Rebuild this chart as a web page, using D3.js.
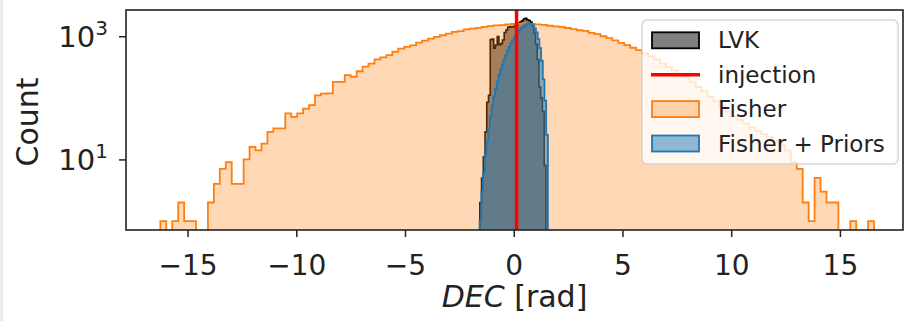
<!DOCTYPE html>
<html><head><meta charset="utf-8">
<script src="https://cdn.jsdelivr.net/npm/d3@7"></script>
<style>body{margin:0;background:#fff}</style>
</head><body><svg id="c" width="906" height="321"></svg>
<script>
// ---- data ----
const xTicks = [-15, -10, -5, 0, 5, 10, 15];
const yTickExps = [1, 3];
const fisherRange = [-16.25, 16.57];
const fisherCounts = [
  1,0,1,2,1,1,0,0,2,4,
  7,9,4,4,10,16,14,18,28,32,
  32,56,49,56,67,76,110,117,118,181,
  181,233,220,270,320,360,420,455,492,560,
  630,670,710,790,850,917,975,1038,1100,1175,
  1210,1290,1333,1370,1420,1460,1500,1520,1550,1580,
  1600,1610,1590,1560,1530,1480,1450,1415,1360,1300,
  1250,1220,1130,1080,1000,930,860,780,715,650,
  593,525,470,420,360,318,280,245,219,180,
  150,128,105,88,75,60,50,44,38,33,
  29,26,23,20,17,14,9,7,2,1,
  5,3,2,2,0,0,1,0,0,1
];
const lvkRange = [-1.56, 1.48];
const lvkCounts = [
  2,5,11,28,85,110,880,900,640,720,
  990,730,760,870,1150,1260,1400,1420,1410,1430,
  1500,1560,1640,1700,1780,1900,1950,1850,1800,1700,
  1500,1150,750,420,150,100,60,8
];
const priorsRange = [-1.5708, 1.5708];
const priorsCounts = [
  1,3,6,12,20,32,50,75,105,140,
  185,235,290,350,420,500,590,680,770,860,
  960,1060,1160,1260,1350,1430,1500,1560,1600,1610,
  1570,1480,1340,1150,900,640,400,200,90,25
];
const injection = 0.13;
const legendLabels = ["LVK", "injection", "Fisher", "Fisher + Priors"];
const xLabel = ["DEC", " [rad]"];
const yLabel = "Count";

// ---- layout ----
const L = 126, R = 903, T = 10, B = 230;
const svg = d3.select("#c");
const FONT = "DejaVu Sans";
svg.append("rect").attr("x",0).attr("y",0).attr("width",3).attr("height",321).attr("fill","#ececec");

const x = d3.scaleLinear().domain([-17.83, 17.9]).range([L, R]);
const y = d3.scaleLog().domain([0.715, 2667]).range([B, T]);

svg.append("defs").append("clipPath").attr("id","clip")
  .append("rect").attr("x",L).attr("y",T).attr("width",R-L).attr("height",B-T);

function stepPath(range, counts) {
  const n = counts.length, w = (range[1]-range[0])/n;
  const below = B + 20;
  let d = `M${x(range[0])},${below}`;
  counts.forEach((c, i) => {
    const yy = c > 0 ? y(c) : below;
    d += `L${x(range[0]+i*w)},${yy}L${x(range[0]+(i+1)*w)},${yy}`;
  });
  d += `L${x(range[1])},${below}Z`;
  return d;
}

const g = svg.append("g").attr("clip-path","url(#clip)");
g.append("path").attr("d", stepPath(lvkRange, lvkCounts))
  .attr("fill","rgba(0,0,0,0.5)").attr("stroke","#000").attr("stroke-width",1.6);
g.append("path").attr("d", stepPath(fisherRange, fisherCounts))
  .attr("fill","rgba(255,127,14,0.3)").attr("stroke","#ff7f0e").attr("stroke-width",1.8);
g.append("path").attr("d", stepPath(priorsRange, priorsCounts))
  .attr("fill","rgba(31,119,180,0.5)").attr("stroke","#1f77b4").attr("stroke-width",1.8);
g.append("line").attr("x1",x(injection)).attr("x2",x(injection)).attr("y1",T).attr("y2",B)
  .attr("stroke","#ff0000").attr("stroke-width",3.5);

// axes
const xa = svg.append("g").attr("transform",`translate(0,${B})`)
  .call(d3.axisBottom(x).tickValues(xTicks).tickSize(7).tickPadding(6)
    .tickFormat(d => d < 0 ? "\u2212" + Math.abs(d) : String(d)));
xa.select(".domain").remove();
xa.selectAll(".tick line").attr("stroke","#222").attr("stroke-width",1.5);
xa.selectAll(".tick text").attr("font-family",FONT).attr("font-size",28).attr("fill","#222")
  .attr("dy",null).attr("y",45);

const ya = svg.append("g").attr("transform",`translate(${L},0)`)
  .call(d3.axisLeft(y).tickValues(yTickExps.map(e => Math.pow(10,e))).tickSize(7).tickFormat(""));
ya.select(".domain").remove();
ya.selectAll(".tick line").attr("stroke","#222").attr("stroke-width",1.5);
yTickExps.forEach(e => {
  const t = svg.append("text").attr("x",108).attr("y",y(Math.pow(10,e))+11)
    .attr("text-anchor","end").attr("font-family",FONT).attr("fill","#222");
  t.append("tspan").attr("font-size",29).text("10");
  t.append("tspan").attr("font-size",20).attr("dy",-12).text(String(e));
});

// frame
svg.append("rect").attr("x",L).attr("y",T).attr("width",R-L).attr("height",B-T)
  .attr("fill","none").attr("stroke","#222").attr("stroke-width",1.6);

// labels
const xl = svg.append("text").attr("x",(L+R)/2).attr("y",307).attr("text-anchor","middle")
  .attr("font-family",FONT).attr("font-size",30).attr("fill","#222");
xl.append("tspan").attr("font-style","italic").text(xLabel[0]);
xl.append("tspan").text(xLabel[1]);
svg.append("text").attr("transform","translate(38,122) rotate(-90)").attr("text-anchor","middle")
  .attr("font-family",FONT).attr("font-size",30).attr("fill","#222").text(yLabel);

// legend
const lg = svg.append("g");
lg.append("rect").attr("x",642).attr("y",20).attr("width",256).attr("height",144).attr("rx",5)
  .attr("fill","rgba(255,255,255,0.8)").attr("stroke","rgba(204,204,204,0.8)").attr("stroke-width",1.5);
const handles = [
  {type:"box", fill:"rgba(0,0,0,0.5)", stroke:"#000"},
  {type:"line", stroke:"#ff0000"},
  {type:"box", fill:"rgba(255,127,14,0.3)", stroke:"#ff7f0e"},
  {type:"box", fill:"rgba(31,119,180,0.5)", stroke:"#1f77b4"}
];
legendLabels.forEach((lab, i) => {
  const base = 48.3 + i*34.4;
  const h = handles[i];
  if (h.type === "box") {
    lg.append("rect").attr("x",652).attr("y",base-16).attr("width",47).attr("height",16)
      .attr("fill",h.fill).attr("stroke",h.stroke).attr("stroke-width",1.8);
  } else {
    lg.append("line").attr("x1",651).attr("x2",700).attr("y1",base-8).attr("y2",base-8)
      .attr("stroke",h.stroke).attr("stroke-width",3.5);
  }
  lg.append("text").attr("x",718).attr("y",base).attr("font-family",FONT).attr("font-size",23)
    .attr("fill","#222").text(lab);
});
</script></body></html>
